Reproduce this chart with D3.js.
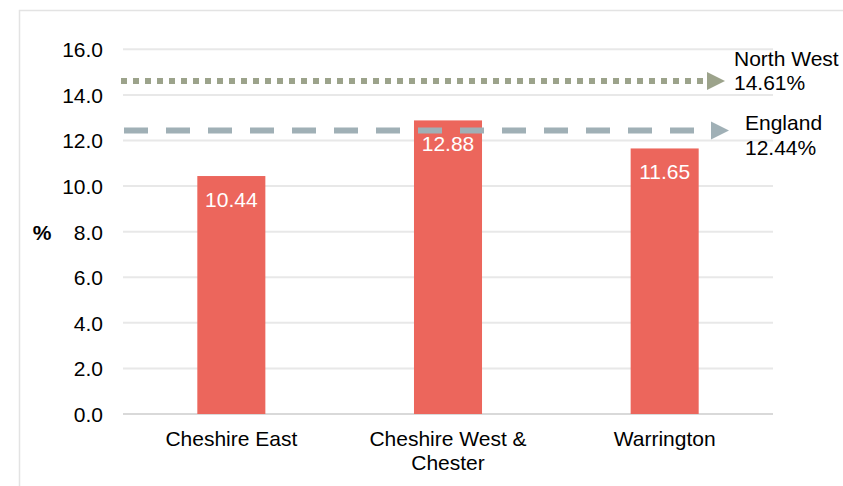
<!DOCTYPE html>
<html>
<head>
<meta charset="utf-8">
<script src="https://cdn.jsdelivr.net/npm/d3@7"></script>
<style>
  html, body { margin: 0; padding: 0; background: #fff; }
  svg text { font-family: "Liberation Sans", Arial, sans-serif; }
</style>
</head>
<body>
<svg id="chart" width="843" height="486"></svg>
<script>
// Local authority rates (%)
const categories = ["Cheshire East", "Cheshire West & Chester", "Warrington"];
const categoryLines = [["Cheshire East"], ["Cheshire West &", "Chester"], ["Warrington"]];
const values = [10.44, 12.88, 11.65];

// Regional / national comparators
const refNames = ["North West", "England"];
const refValues = [14.61, 12.44];

// Y axis ticks
const yTicks = [0, 2, 4, 6, 8, 10, 12, 14, 16];

const FS = 21;     // font size

const svg = d3.select("#chart");

// outer frame
svg.append("rect")
  .attr("x", 19.5).attr("y", 10.5)
  .attr("width", 900).attr("height", 600)
  .attr("fill", "none").attr("stroke", "#e3e3e3").attr("stroke-width", 1.5);

const x = d3.scaleBand().domain(categories).range([123, 773]).padding(0);
const y = d3.scaleLinear().domain([0, 16]).range([414, 49.3]);
const barW = x.bandwidth() * 0.314;

function label(g, px, py, txt, anchor, opts = {}) {
  return g.append("text")
    .attr("x", px).attr("y", py)
    .attr("text-anchor", anchor)
    .attr("font-size", opts.size || FS)
    .attr("font-weight", opts.weight || "normal")
    .attr("fill", opts.fill || "#000")
    .text(txt);
}

// gridlines
svg.append("g").selectAll("line").data(yTicks).join("line")
  .attr("x1", 123).attr("x2", 773)
  .attr("y1", d => y(d)).attr("y2", d => y(d))
  .attr("stroke", d => d === 0 ? "#d9d9d9" : "#e8e8e8")
  .attr("stroke-width", 2);

// y axis labels
const yAxis = svg.append("g").attr("transform", "translate(123,0)")
  .call(d3.axisLeft(y).tickValues(yTicks).tickFormat(d3.format(".1f")).tickSize(0).tickPadding(20));
yAxis.select(".domain").remove();
yAxis.selectAll("text")
  .attr("dy", null).attr("y", 7.5)
  .attr("font-size", FS)
  .attr("font-family", "Liberation Sans, Arial, sans-serif")
  .attr("fill", "#000");

// axis title
label(svg, 42, 240, "%", "middle", { weight: "bold" });

// bars
const bars = svg.append("g");
bars.selectAll("rect").data(values).join("rect")
  .attr("x", (d, i) => x(categories[i]) + x.bandwidth() / 2 - barW / 2)
  .attr("width", barW)
  .attr("y", d => y(d))
  .attr("height", d => y(0) - y(d))
  .attr("fill", "#EC665C");

// bar value labels
values.forEach((v, i) => {
  label(svg, x(categories[i]) + x.bandwidth() / 2, y(v) + 31, v.toFixed(2), "middle", { fill: "#fff" });
});

// category labels
categoryLines.forEach((lines, i) => {
  lines.forEach((t, j) => {
    label(svg, x(categories[i]) + x.bandwidth() / 2, 446 + j * 24, t, "middle");
  });
});

// North West comparator: dotted line with arrow
const nwY = y(refValues[0]);
svg.append("line")
  .attr("x1", 121).attr("x2", 703).attr("y1", nwY).attr("y2", nwY)
  .attr("stroke", "#9CA38B").attr("stroke-width", 6)
  .attr("stroke-dasharray", "6,6");
svg.append("path")
  .attr("d", `M707,${nwY - 9} L725,${nwY} L707,${nwY + 9} Z`)
  .attr("fill", "#9CA38B");
label(svg, 734, nwY - 14.5, refNames[0], "start");
label(svg, 734, nwY + 9.5, refValues[0].toFixed(2) + "%", "start");

// England comparator: dashed line with arrow
const enY = y(refValues[1]);
svg.append("line")
  .attr("x1", 124).attr("x2", 694).attr("y1", enY).attr("y2", enY)
  .attr("stroke", "#A0B0B6").attr("stroke-width", 6)
  .attr("stroke-dasharray", "24,18");
svg.append("path")
  .attr("d", `M711,${enY - 9} L729,${enY} L711,${enY + 9} Z`)
  .attr("fill", "#A0B0B6");
label(svg, 745, enY, refNames[1], "start");
label(svg, 745, enY + 25, refValues[1].toFixed(2) + "%", "start");
</script>
</body>
</html>
